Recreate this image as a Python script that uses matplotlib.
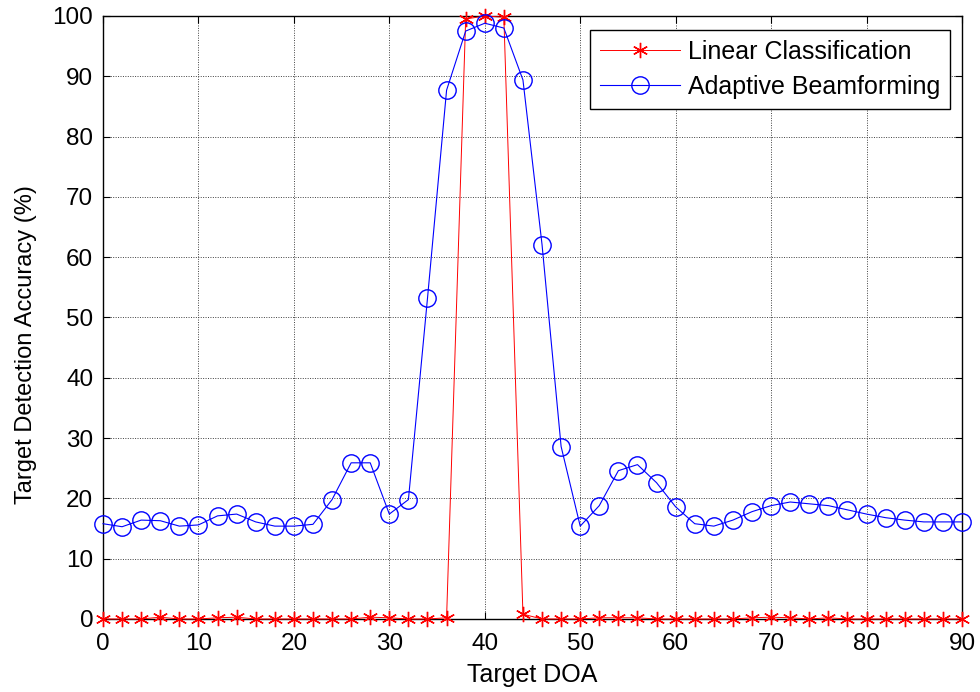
import matplotlib
matplotlib.use('Agg')
import matplotlib.pyplot as plt
import numpy as np

plt.rcParams['font.family'] = ['Liberation Sans', 'DejaVu Sans']

# target DOA angles (degrees)
doa = np.arange(0, 91, 2)

# detection accuracy (%)
linear = [0, 0, 0, 0.3, 0, 0, 0.2, 0.3, 0, 0,      # 0..18
          0, 0, 0, 0, 0.3, 0.2, 0, 0, 0.2, 99.5,   # 20..38
          100, 99.8, 0.8, 0, 0, 0, 0.2, 0.2, 0.2, 0,  # 40..58
          0, 0, 0, 0, 0.2, 0.3, 0.2, 0, 0.2, 0,    # 60..78
          0, 0, 0, 0, 0, 0]                        # 80..90
adaptive = [15.8, 15.3, 16.4, 16.3, 15.4, 15.6, 17.1, 17.4, 16.1, 15.4,
            15.4, 15.7, 19.8, 25.9, 25.9, 17.4, 19.8, 53.2, 87.7, 97.5,
            98.8, 98.0, 89.4, 62.1, 28.6, 15.4, 18.8, 24.6, 25.6, 22.6,
            18.6, 15.8, 15.4, 16.4, 17.8, 18.8, 19.4, 19.1, 18.8, 18.1,
            17.4, 16.8, 16.4, 16.1, 16.1, 16.1]

fig = plt.figure(figsize=(9.8, 6.92), dpi=100)
ax = fig.add_axes([0.1051, 0.1055, 0.8765, 0.8714])

ax.plot(doa, linear, color='red', marker=(6, 2, 0), markersize=11, linewidth=0.7,
        markeredgewidth=1.0, label='Linear Classification', clip_on=False, zorder=3)
ax.plot(doa, adaptive, color='blue', marker='o', markersize=12.5, linewidth=0.8,
        markerfacecolor='none', markeredgewidth=1.0, label='Adaptive Beamforming',
        clip_on=False, zorder=3)

ax.set_xlim(0, 90)
ax.set_ylim(0, 100)
ax.set_xticks(np.arange(0, 91, 10))
ax.set_yticks(np.arange(0, 101, 10))
ax.tick_params(direction='in', labelsize=17.5, top=True, right=True, length=5)
ax.tick_params(axis='x', pad=10)
ax.tick_params(axis='y', pad=7)
ax.grid(True, linestyle=(0, (1, 1.5)), color='0.25', linewidth=0.7)
ax.set_axisbelow(True)
for s in ax.spines.values():
    s.set_linewidth(1.0)

ax.set_xlabel('Target DOA', fontsize=18, labelpad=6)
ax.set_ylabel('Target Detection Accuracy (%)', fontsize=17)
ax.yaxis.set_label_coords(-0.077, 0.455)

leg = ax.legend(loc='upper right', bbox_to_anchor=(0.986, 0.977), borderaxespad=0,
                fontsize=18, fancybox=False, framealpha=1, edgecolor='black',
                handlelength=3.2, handletextpad=0.3, labelspacing=0.45)
leg.get_frame().set_linewidth(1.0)

fig.savefig('out.png', dpi=100)
